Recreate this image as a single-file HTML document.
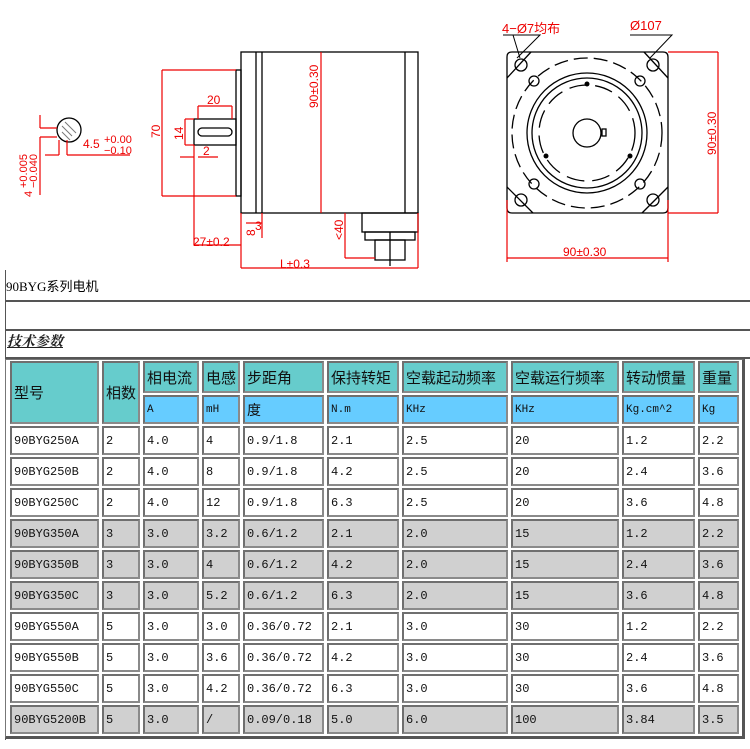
<!DOCTYPE html>
<html><head><meta charset="utf-8">
<style>
body{margin:0;width:750px;height:749px;background:#fff;position:relative;overflow:hidden;font-family:"Liberation Serif","Noto Serif CJK SC","Noto Sans CJK SC",serif;}
.abs{position:absolute}
table{position:absolute;left:7px;top:359px;width:735px;border-collapse:separate;border-spacing:3px 2px;table-layout:fixed;}
td{box-sizing:border-box;border:2px solid #6f6f6f;border-right-color:#8a8a8a;border-bottom-color:#8a8a8a;padding:0 0 0 2px;font-size:12px;color:#111;white-space:nowrap;overflow:hidden;font-family:"Liberation Mono","Noto Sans CJK SC",monospace;}
td.h{background:#66cccc;font-family:"Liberation Sans","Noto Sans CJK SC",sans-serif;font-size:15px;}
td.u{background:#66ccff;font-size:11px;}
tr.g td{background:#d0d0d0;}
tr.d{height:29px}
</style></head><body>
<svg class="abs" style="left:0;top:0" width="750" height="270" viewBox="0 0 750 270" font-family="Liberation Sans, Noto Sans CJK SC, sans-serif">
<g stroke="#000" stroke-width="1.3" fill="none">
<rect x="241" y="52" width="177" height="161"/>
<line x1="256" y1="52" x2="256" y2="213"/><line x1="262" y1="52" x2="262" y2="213"/>
<line x1="405" y1="52" x2="405" y2="213"/>
<rect x="236" y="70" width="5" height="126"/>
<rect x="194" y="119" width="42" height="26"/>
<rect x="198" y="128" width="34" height="8" rx="4"/>
<rect x="362" y="213" width="56" height="19"/>
<rect x="365" y="232" width="50" height="8"/>
<rect x="375" y="240" width="30" height="20"/>
<line x1="390" y1="232" x2="390" y2="266"/>
<circle cx="69" cy="130" r="12"/>
<path d="M507 57 q0 -5 5 -5 h151 q5 0 5 5 v151 q0 5 -5 5 h-151 q-5 0 -5 -5z"/>
<circle cx="587" cy="133" r="60"/><circle cx="587" cy="133" r="55"/>
<circle cx="587" cy="133" r="75" stroke-dasharray="14 6"/>
<circle cx="587" cy="133" r="48" stroke-dasharray="18 8"/>
<circle cx="587" cy="133" r="14"/>
<rect x="602" y="129" width="4" height="7"/>
<circle cx="521" cy="65" r="6"/><circle cx="653" cy="65" r="6"/><circle cx="521" cy="200" r="6"/><circle cx="653" cy="200" r="6"/>
<circle cx="534" cy="81" r="5"/><circle cx="640" cy="81" r="5"/><circle cx="534" cy="184" r="5"/><circle cx="640" cy="184" r="5"/>
<line x1="507" y1="78" x2="531" y2="52"/><line x1="644" y1="52" x2="668" y2="78"/><line x1="507" y1="187" x2="533" y2="213"/><line x1="642" y1="213" x2="668" y2="187"/>
</g>
<g fill="#000"><circle cx="587" cy="84" r="2.5"/><circle cx="546" cy="156" r="2.5"/><circle cx="630" cy="156" r="2.5"/></g>
<g stroke="#777" stroke-width="1"><line x1="62" y1="126" x2="72" y2="136"/><line x1="65" y1="122" x2="76" y2="133"/><line x1="62" y1="132" x2="70" y2="140"/></g>
<g stroke="#e00" stroke-width="1.2" fill="none">
<line x1="162" y1="70" x2="236" y2="70"/><line x1="162" y1="196" x2="236" y2="196"/><line x1="162" y1="70" x2="162" y2="196"/>
<line x1="321" y1="52" x2="321" y2="213"/>
<line x1="198" y1="106" x2="198" y2="119"/><line x1="198" y1="106" x2="232" y2="106"/><line x1="232" y1="106" x2="232" y2="119"/>
<line x1="185" y1="119" x2="194" y2="119"/><line x1="185" y1="145" x2="194" y2="145"/><line x1="185" y1="119" x2="185" y2="145"/>
<line x1="194" y1="145" x2="194" y2="245"/><line x1="194" y1="245" x2="241" y2="245"/>
<line x1="180" y1="157" x2="194" y2="157"/><line x1="198" y1="157" x2="218" y2="157"/>
<line x1="241" y1="213" x2="241" y2="268"/><line x1="418" y1="213" x2="418" y2="268"/><line x1="241" y1="268" x2="418" y2="268"/>
<line x1="246" y1="223" x2="262" y2="223"/><line x1="262" y1="213" x2="262" y2="238"/>
<line x1="345" y1="213" x2="345" y2="258"/><line x1="345" y1="258" x2="375" y2="258"/>
<line x1="40" y1="115" x2="40" y2="128"/><line x1="40" y1="128" x2="57" y2="128"/>
<line x1="40" y1="137" x2="57" y2="137"/><line x1="40" y1="137" x2="40" y2="195"/>
<line x1="45" y1="155" x2="59" y2="155"/><line x1="59" y1="140" x2="59" y2="155"/>
<line x1="67" y1="140" x2="67" y2="155"/><line x1="67" y1="155" x2="130" y2="155"/>
<line x1="668" y1="52" x2="718" y2="52"/><line x1="668" y1="213" x2="718" y2="213"/><line x1="718" y1="52" x2="718" y2="213"/>
<line x1="507" y1="200" x2="507" y2="262"/><line x1="668" y1="200" x2="668" y2="262"/><line x1="507" y1="258" x2="668" y2="258"/>
</g>
<g stroke="#000" stroke-width="1" fill="none">
<polyline points="503,35 540,35 517,58"/><polyline points="503,35 513,35 520,58"/>
<polyline points="630,35 672,35 650,58"/>
</g>
<g fill="#e00" font-size="12">
<text x="207" y="104">20</text>
<text x="203" y="155">2</text>
<text transform="translate(160,138) rotate(-90)">70</text>
<text transform="translate(183,140) rotate(-90)">14</text>
<text transform="translate(318,108) rotate(-90)">90±0.30</text>
<text x="193" y="246">27±0.2</text>
<text x="255" y="230">3</text>
<text transform="translate(255,236) rotate(-90)">8</text>
<text transform="translate(343,240) rotate(-90)">&lt;40</text>
<text x="280" y="268">L±0.3</text>
<text x="83" y="148">4.5</text>
<text x="104" y="143" font-size="11">+0.00</text><text x="104" y="154" font-size="11">−0.10</text>
<text transform="translate(32,197) rotate(-90)" font-size="11">4</text>
<text transform="translate(27,188) rotate(-90)" font-size="11">+0.005</text>
<text transform="translate(37,188) rotate(-90)" font-size="11">−0.040</text>
<text transform="translate(716,155) rotate(-90)">90±0.30</text>
<text x="563" y="256">90±0.30</text>
<text x="502" y="33" font-size="13">4−Ø7均布</text>
<text x="630" y="30" font-size="13">Ø107</text>
</g>
</svg>
<div class="abs" style="left:5px;top:270px;width:1px;height:470px;background:#555"></div>
<div class="abs" style="left:6px;top:276px;font-size:13px;font-family:'Liberation Serif','Noto Sans CJK SC',serif">90BYG系列电机</div>
<div class="abs" style="left:5px;top:300px;width:745px;height:2px;background:#555"></div>
<div class="abs" style="left:5px;top:329px;width:745px;height:2px;background:#555"></div>
<div class="abs" style="left:7px;top:331px;font-size:14px;font-weight:bold;font-style:italic;text-decoration:underline;color:#222;font-family:'Noto Serif CJK SC',serif">技术参数</div>
<div class="abs" style="left:5px;top:357px;width:745px;height:2px;background:#555"></div>
<div class="abs" style="left:5px;top:359px;width:740px;height:380px;border:1px solid #777;border-right:3px solid #555;border-bottom:3px solid #555;box-sizing:border-box"></div>
<table>
<colgroup><col style="width:89px"><col style="width:38px"><col style="width:56px"><col style="width:38px"><col style="width:81px"><col style="width:72px"><col style="width:106px"><col style="width:108px"><col style="width:73px"><col style="width:41px"></colgroup>
<tr style="height:32px"><td class="h" rowspan="2">型号</td><td class="h" rowspan="2">相数</td><td class="h">相电流</td><td class="h">电感</td><td class="h">步距角</td><td class="h">保持转矩</td><td class="h">空载起动频率</td><td class="h">空载运行频率</td><td class="h">转动惯量</td><td class="h">重量</td></tr>
<tr style="height:29px"><td class="u">A</td><td class="u">mH</td><td class="u" style="font-size:14px;font-family:'Noto Sans CJK SC',sans-serif">度</td><td class="u">N.m</td><td class="u">KHz</td><td class="u">KHz</td><td class="u">Kg.cm^2</td><td class="u">Kg</td></tr>
<tr class="d"><td>90BYG250A</td><td>2</td><td>4.0</td><td>4</td><td>0.9/1.8</td><td>2.1</td><td>2.5</td><td>20</td><td>1.2</td><td>2.2</td></tr>
<tr class="d"><td>90BYG250B</td><td>2</td><td>4.0</td><td>8</td><td>0.9/1.8</td><td>4.2</td><td>2.5</td><td>20</td><td>2.4</td><td>3.6</td></tr>
<tr class="d"><td>90BYG250C</td><td>2</td><td>4.0</td><td>12</td><td>0.9/1.8</td><td>6.3</td><td>2.5</td><td>20</td><td>3.6</td><td>4.8</td></tr>
<tr class="d g"><td>90BYG350A</td><td>3</td><td>3.0</td><td>3.2</td><td>0.6/1.2</td><td>2.1</td><td>2.0</td><td>15</td><td>1.2</td><td>2.2</td></tr>
<tr class="d g"><td>90BYG350B</td><td>3</td><td>3.0</td><td>4</td><td>0.6/1.2</td><td>4.2</td><td>2.0</td><td>15</td><td>2.4</td><td>3.6</td></tr>
<tr class="d g"><td>90BYG350C</td><td>3</td><td>3.0</td><td>5.2</td><td>0.6/1.2</td><td>6.3</td><td>2.0</td><td>15</td><td>3.6</td><td>4.8</td></tr>
<tr class="d"><td>90BYG550A</td><td>5</td><td>3.0</td><td>3.0</td><td>0.36/0.72</td><td>2.1</td><td>3.0</td><td>30</td><td>1.2</td><td>2.2</td></tr>
<tr class="d"><td>90BYG550B</td><td>5</td><td>3.0</td><td>3.6</td><td>0.36/0.72</td><td>4.2</td><td>3.0</td><td>30</td><td>2.4</td><td>3.6</td></tr>
<tr class="d"><td>90BYG550C</td><td>5</td><td>3.0</td><td>4.2</td><td>0.36/0.72</td><td>6.3</td><td>3.0</td><td>30</td><td>3.6</td><td>4.8</td></tr>
<tr class="d g"><td>90BYG5200B</td><td>5</td><td>3.0</td><td>/</td><td>0.09/0.18</td><td>5.0</td><td>6.0</td><td>100</td><td>3.84</td><td>3.5</td></tr>
</table>
</body></html>
